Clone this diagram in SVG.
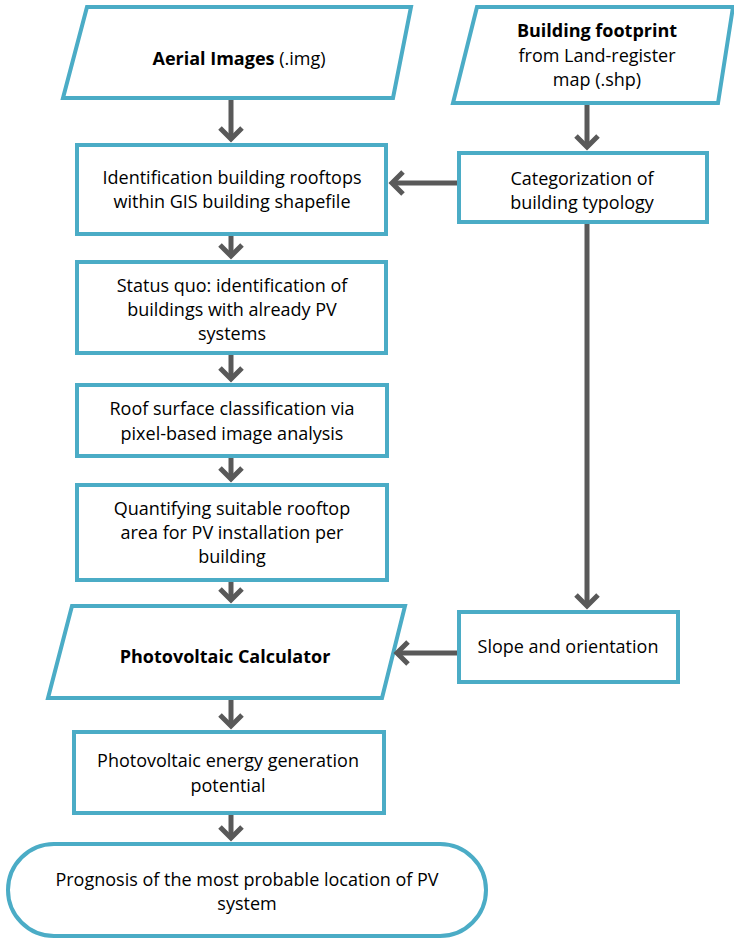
<svg xmlns="http://www.w3.org/2000/svg" width="734" height="939" viewBox="0 0 734 939">
<style>
.n{fill:#fff;stroke:#4BACC6;stroke-width:4}
.t{font-family:"Open Sans","Noto Sans",sans-serif;font-size:18px;fill:#000;text-anchor:middle}
.b{font-weight:bold}
.c{stroke:#595959;stroke-width:5;fill:none}
</style>
<defs>
<marker id="ah" markerUnits="userSpaceOnUse" markerWidth="20" markerHeight="28" viewBox="0 0 20 28" refX="14" refY="14" orient="auto">
<path d="M3,3 L14,14 L3,25" fill="none" stroke="#595959" stroke-width="5"/>
</marker>
</defs>
<rect width="734" height="939" fill="#fff"/>
<g id="aerial">
<polygon class="n" points="87,7 411,7 393,98 63,98"/>
<text class="t" x="239" y="65"><tspan class="b">Aerial Images</tspan> (.img)</text>
</g>
<g id="footprint">
<polygon class="n" points="477,7 733,7 718,103 453,103"/>
<text class="t" x="597" y="37"><tspan class="b">Building footprint</tspan></text>
<text class="t" x="597" y="62">from Land-register</text>
<text class="t" x="597" y="86">map (.shp)</text>
</g>
<g id="identification">
<rect class="n" x="77" y="145" width="309" height="89"/>
<text class="t" x="232" y="184">Identification building rooftops</text>
<text class="t" x="232" y="208">within GIS building shapefile</text>
</g>
<g id="categorization">
<rect class="n" x="459" y="153" width="248" height="69"/>
<text class="t" x="582" y="185">Categorization of</text>
<text class="t" x="582" y="209">building typology</text>
</g>
<g id="statusquo">
<rect class="n" x="77" y="262" width="309" height="91"/>
<text class="t" x="232" y="292">Status quo: identification of</text>
<text class="t" x="232" y="316">buildings with already PV</text>
<text class="t" x="232" y="340">systems</text>
</g>
<g id="roof">
<rect class="n" x="77" y="385" width="310" height="71"/>
<text class="t" x="232" y="415">Roof surface classification via</text>
<text class="t" x="232" y="440">pixel-based image analysis</text>
</g>
<g id="quantifying">
<rect class="n" x="77" y="485" width="310" height="95"/>
<text class="t" x="232" y="515">Quantifying suitable rooftop</text>
<text class="t" x="232" y="539">area for PV installation per</text>
<text class="t" x="232" y="563">building</text>
</g>
<g id="pvcalc">
<polygon class="n" points="72,606 405,606 382,698 48,698"/>
<text class="t b" x="225" y="663">Photovoltaic Calculator</text>
</g>
<g id="slope">
<rect class="n" x="459" y="612" width="219" height="70"/>
<text class="t" x="568" y="653">Slope and orientation</text>
</g>
<g id="pvenergy">
<rect class="n" x="74" y="732" width="310" height="81"/>
<text class="t" x="228" y="767">Photovoltaic energy generation</text>
<text class="t" x="228" y="792">potential</text>
</g>
<g id="prognosis">
<rect class="n" x="8" y="844" width="478" height="92" rx="46" ry="46"/>
<text class="t" x="247" y="886">Prognosis of the most probable location of PV</text>
<text class="t" x="247" y="910">system</text>
</g>
<g id="connectors">
<line class="c" x1="231" y1="100" x2="231" y2="139" marker-end="url(#ah)"/>
<line class="c" x1="231" y1="236" x2="231" y2="256" marker-end="url(#ah)"/>
<line class="c" x1="231" y1="355" x2="231" y2="379" marker-end="url(#ah)"/>
<line class="c" x1="231" y1="458" x2="231" y2="479" marker-end="url(#ah)"/>
<line class="c" x1="231" y1="582" x2="231" y2="600" marker-end="url(#ah)"/>
<line class="c" x1="231" y1="700" x2="231" y2="726" marker-end="url(#ah)"/>
<line class="c" x1="231" y1="815" x2="231" y2="838" marker-end="url(#ah)"/>
<line class="c" x1="587" y1="105" x2="587" y2="147" marker-end="url(#ah)"/>
<line class="c" x1="457" y1="183" x2="392" y2="183" marker-end="url(#ah)"/>
<line class="c" x1="587" y1="224" x2="587" y2="606" marker-end="url(#ah)"/>
<line class="c" x1="457" y1="653" x2="397" y2="653" marker-end="url(#ah)"/>
</g>
</svg>
